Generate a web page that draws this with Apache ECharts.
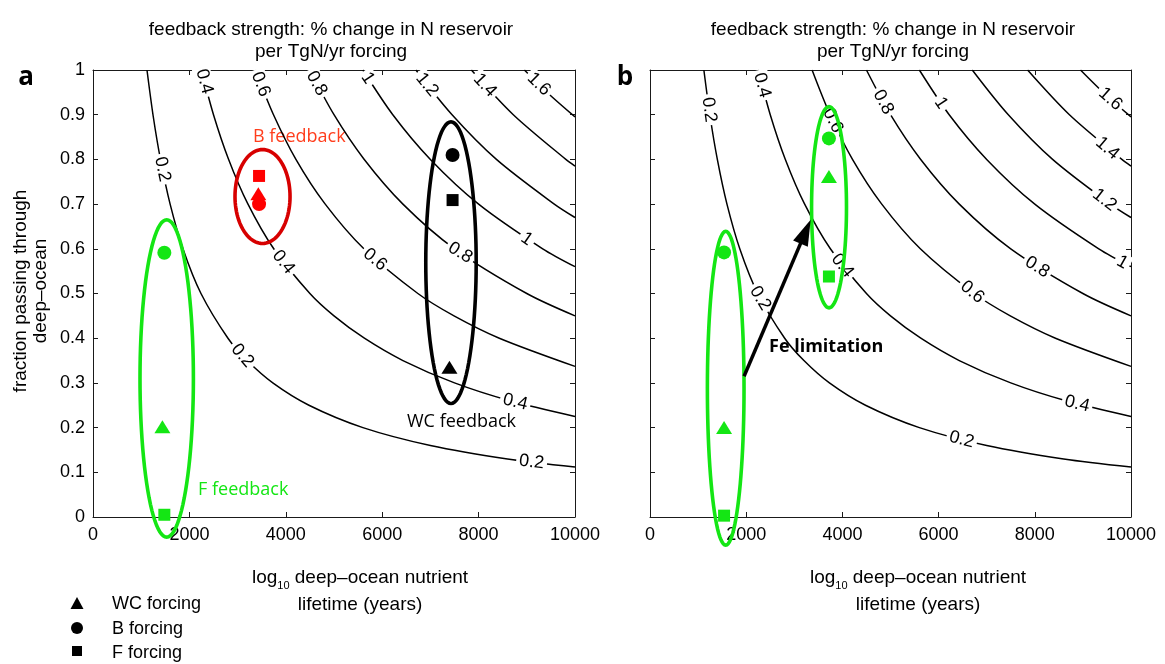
<!DOCTYPE html>
<html>
<head>
<meta charset="utf-8">
<script src="https://cdn.jsdelivr.net/npm/echarts@6/dist/echarts.min.js"></script>
<style>
html,body{margin:0;padding:0;background:#fff;}
#chart{width:1165px;height:664px;}
</style>
</head>
<body>
<div id="chart"></div>
<script>
// Contour levels: feedback strength (% change in N reservoir per TgN/yr forcing)
const levels = [0.2, 0.4, 0.6, 0.8, 1, 1.2, 1.4, 1.6];

// Contour paths as [deep-ocean nutrient lifetime (yr), fraction passing through deep ocean]
const c02 = [[1120,1.000],[1250,0.896],[1400,0.800],[1600,0.700],[1870,0.599],[2240,0.500],[2800,0.400],[3200,0.350],[3730,0.300],[4480,0.250],[5600,0.200],[7000,0.160],[8600,0.130],[10000,0.112]];
const c04 = [[2250,1.000],[2500,0.900],[2810,0.801],[3210,0.701],[3750,0.600],[4500,0.500],[5000,0.450],[5630,0.400],[6430,0.350],[7500,0.300],[8650,0.260],[10000,0.225]];
const c06 = [[3370,1.000],[3740,0.901],[4210,0.800],[4810,0.701],[5620,0.600],[6740,0.500],[7490,0.450],[8430,0.400],[10000,0.337]];
const c08 = [[4500,1.000],[5000,0.900],[5620,0.801],[6430,0.700],[7500,0.600],[9000,0.500],[10000,0.450]];
const c10 = [[5600,1.000],[6220,0.900],[7000,0.800],[8000,0.700],[9330,0.600],[10000,0.560]];
const c12 = [[6700,1.000],[7440,0.901],[8370,0.800],[9570,0.700],[10000,0.670]];
const c14 = [[7850,1.000],[8720,0.900],[9810,0.800],[10000,0.785]];
const c16 = [[8950,1.000],[9440,0.948],[10000,0.895]];
const contours = [c02, c04, c06, c08, c10, c12, c14, c16];

// Inline contour labels: [lifetime, fraction, level]
const labelsA = [[1440,0.778,0.2],[3100,0.361,0.2],[9100,0.123,0.2],
  [2310,0.974,0.4],[3950,0.570,0.4],[8760,0.257,0.4],
  [3480,0.968,0.6],[5850,0.576,0.6],[4640,0.970,0.8],[7620,0.591,0.8],
  [5700,0.982,1],[9000,0.622,1],[6930,0.967,1.2],[8130,0.966,1.4],[9250,0.968,1.6]];
const labelsB = [[1230,0.911,0.2],[2290,0.489,0.2],[6480,0.173,0.2],
  [2330,0.966,0.4],[4000,0.5625,0.4],[8880,0.253,0.4],
  [3800,0.887,0.6],[6700,0.503,0.6],[4850,0.928,0.8],[8050,0.559,0.8],
  [6050,0.926,1],[9820,0.570,1],[9450,0.709,1.2],[9510,0.825,1.4],[9570,0.935,1.6]];

// Model points, each list ordered [WC forcing, B forcing, F forcing]
const fFeedbackA  = [[1440,0.202],[1480,0.591],[1480,0.005]];
const bFeedbackA  = [[3430,0.723],[3445,0.700],[3445,0.763]];
const wcFeedbackA = [[7395,0.335],[7460,0.810],[7460,0.709]];
const fFeedbackB1 = [[1540,0.200],[1540,0.592],[1540,0.003]];
const fFeedbackB2 = [[3720,0.762],[3720,0.847],[3720,0.538]];

// Grouping ellipses: [centre lifetime, centre fraction, half-width (yr), half-height]
const ellipseFA  = [1529, 0.310, 554, 0.355];
const ellipseBA  = [3517, 0.717, 571, 0.105];
const ellipseWCA = [7427, 0.569, 523, 0.315];
const ellipseFB1 = [1574, 0.288, 381, 0.351];
const ellipseFB2 = [3722, 0.693, 363, 0.225];

// Fe limitation arrow: [from lifetime, from fraction, to lifetime, to fraction]
const feArrow = [1956, 0.315, 3340, 0.665];

const GREEN = '#14e614', RED = '#ff0000', DARKRED = '#d70000', ORANGE = '#ff3d1c';
const SANS = '"Liberation Sans", Arial, sans-serif';
const MYR = '"Open Sans", sans-serif';
const shapes = [{symbol:'triangle', symbolSize:[16,13]}, {symbol:'circle', symbolSize:14}, {symbol:'rect', symbolSize:12}];

const axisLineStyle = {color:'#1a1a1a', width:1};
function xAx(grid, pos, labels) {
  return {type:'value', gridIndex:grid, position:pos, min:0, max:10000, interval:2000,
    axisLine:{show:true, onZero:false, lineStyle:axisLineStyle},
    axisTick:{show:true, inside:true, length:5, lineStyle:axisLineStyle},
    axisLabel:{show:labels, color:'#000', fontSize:18, fontFamily:SANS, margin:9, formatter:v => String(v)},
    splitLine:{show:false}};
}
function yAx(grid, pos, labels) {
  return {type:'value', gridIndex:grid, position:pos, min:0, max:1, interval:0.1,
    axisLine:{show:true, onZero:false, lineStyle:axisLineStyle},
    axisTick:{show:true, inside:true, length:5, lineStyle:axisLineStyle},
    axisLabel:{show:labels, color:'#000', fontSize:18, fontFamily:SANS, margin:8, formatter:v => String(+v.toFixed(1))},
    splitLine:{show:false}};
}

const series = [];
[0, 1].forEach(g => {
  contours.forEach(pts => series.push({
    type:'line', xAxisIndex:2*g, yAxisIndex:2*g, data:pts, symbol:'none', smooth:0.3,
    lineStyle:{color:'#000', width:1.5}, z:2, silent:true, animation:false
  }));
});

function contourLabels(g, list) {
  return {type:'custom', xAxisIndex:2*g, yAxisIndex:2*g, z:3, silent:true, clip:false, animation:false,
    data:list,
    renderItem(params, api) {
      const x = api.value(0), y = api.value(1), lv = api.value(2);
      const pts = contours[levels.indexOf(lv)];
      let k = 0;
      while (k < pts.length - 2 && pts[k + 1][0] < x) k++;
      const a = api.coord(pts[k]), b = api.coord(pts[k + 1]);
      const ang = Math.atan2(b[1] - a[1], b[0] - a[0]);
      const p = api.coord([x, y]);
      return {type:'text', x:p[0], y:p[1], rotation:-ang,
        style:{text:String(lv), font:'18px ' + SANS, fill:'#000', align:'center', verticalAlign:'middle',
          backgroundColor:'#fff', padding:[0, 3]}};
    }};
}
series.push(contourLabels(0, labelsA), contourLabels(1, labelsB));

function ellipse(g, e, color) {
  return {type:'custom', xAxisIndex:2*g, yAxisIndex:2*g, z:4, silent:true, clip:false, animation:false,
    data:[e],
    renderItem(params, api) {
      const c = api.coord([api.value(0), api.value(1)]);
      const s = api.size([api.value(2), api.value(3)]);
      const pts = [];
      for (let t = 0; t < 96; t++) {
        const a = t / 96 * 2 * Math.PI;
        pts.push([c[0] + s[0] * Math.cos(a), c[1] + s[1] * Math.sin(a)]);
      }
      return {type:'polygon', shape:{points:pts}, style:{fill:'none', stroke:color, lineWidth:3.6}};
    }};
}
series.push(ellipse(0, ellipseFA, GREEN), ellipse(0, ellipseBA, DARKRED), ellipse(0, ellipseWCA, '#000'),
            ellipse(1, ellipseFB1, GREEN), ellipse(1, ellipseFB2, GREEN));

function markers(g, pts, color) {
  return {type:'scatter', xAxisIndex:2*g, yAxisIndex:2*g, z:5, silent:true, animation:false,
    itemStyle:{color:color, opacity:1},
    data:pts.map((p, i) => Object.assign({value:p}, shapes[i]))};
}
series.push(markers(0, fFeedbackA, GREEN), markers(0, bFeedbackA, RED), markers(0, wcFeedbackA, '#000'),
            markers(1, fFeedbackB1, GREEN), markers(1, fFeedbackB2, GREEN));

series.push({type:'custom', xAxisIndex:2, yAxisIndex:2, z:6, silent:true, clip:false, animation:false,
  data:[feArrow],
  renderItem(params, api) {
    const a = api.coord([api.value(0), api.value(1)]);
    const b = api.coord([api.value(2), api.value(3)]);
    const dx = b[0] - a[0], dy = b[1] - a[1], L = Math.hypot(dx, dy);
    const ux = dx / L, uy = dy / L, hl = 26, hw = 8;
    const bx = b[0] - ux * hl, by = b[1] - uy * hl;
    return {type:'group', children:[
      {type:'line', shape:{x1:a[0], y1:a[1], x2:bx + ux * 3, y2:by + uy * 3}, style:{stroke:'#000', lineWidth:3.5}},
      {type:'polygon', shape:{points:[[b[0], b[1]], [bx - uy * hw, by + ux * hw], [bx + uy * hw, by - ux * hw]]}, style:{fill:'#000'}}
    ]};
  }});

const titleText = 'feedback strength: % change in N reservoir\nper TgN/yr forcing';
const xNameText = 'log{s|10} deep\u2013ocean nutrient\nlifetime (years)';
const txt = (x, y, text, font, fill, align, extra) => ({type:'text', x:x, y:y,
  style:Object.assign({text:text, font:font, fill:fill || '#000', align:align || 'center', verticalAlign:'middle'}, extra || {})});

const graphic = [
  txt(331, 41, titleText, '19px ' + SANS, '#000', 'center', {lineHeight:22}),
  txt(893, 41, titleText, '19px ' + SANS, '#000', 'center', {lineHeight:22}),
  txt(26, 78, 'a', 'bold 26px ' + MYR),
  txt(625, 78, 'b', 'bold 26px ' + MYR),
  txt(360, 591, xNameText, '19px ' + SANS, '#000', 'center', {lineHeight:27, rich:{s:{fontSize:11, fontFamily:SANS, verticalAlign:'bottom', padding:[8,0,0,0]}}}),
  txt(918, 591, xNameText, '19px ' + SANS, '#000', 'center', {lineHeight:27, rich:{s:{fontSize:11, fontFamily:SANS, verticalAlign:'bottom', padding:[8,0,0,0]}}}),
  Object.assign(txt(31, 291, 'fraction passing through\ndeep\u2013ocean', '19px ' + SANS, '#000', 'center', {lineHeight:20}), {rotation:Math.PI / 2}),
  txt(253, 137, 'B feedback', '18px ' + MYR, ORANGE, 'left'),
  txt(407, 422, 'WC feedback', '18px ' + MYR, '#000', 'left'),
  txt(198, 490, 'F feedback', '18px ' + MYR, GREEN, 'left'),
  txt(769, 347, 'Fe limitation', 'bold 18px ' + MYR, '#000', 'left'),
  // forcing-type key
  {type:'polygon', shape:{points:[[77,597],[70.5,609],[83.5,609]]}, style:{fill:'#000'}},
  {type:'circle', shape:{cx:77, cy:628, r:6}, style:{fill:'#000'}},
  {type:'rect', shape:{x:72, y:646, width:10, height:10}, style:{fill:'#000'}},
  txt(112, 604, 'WC forcing', '18px ' + SANS, '#000', 'left'),
  txt(112, 629, 'B forcing', '18px ' + SANS, '#000', 'left'),
  txt(112, 653, 'F forcing', '18px ' + SANS, '#000', 'left')
];

const chart = echarts.init(document.getElementById('chart'), null, {renderer:'canvas'});
chart.setOption({
  animation:false,
  backgroundColor:'#fff',
  grid:[{left:93, top:70, width:482, height:447}, {left:650, top:70, width:481, height:447}],
  xAxis:[xAx(0, 'bottom', true), xAx(0, 'top', false), xAx(1, 'bottom', true), xAx(1, 'top', false)],
  yAxis:[yAx(0, 'left', true), yAx(0, 'right', false), yAx(1, 'left', false), yAx(1, 'right', false)],
  series:series,
  graphic:graphic
});
</script>
</body>
</html>
